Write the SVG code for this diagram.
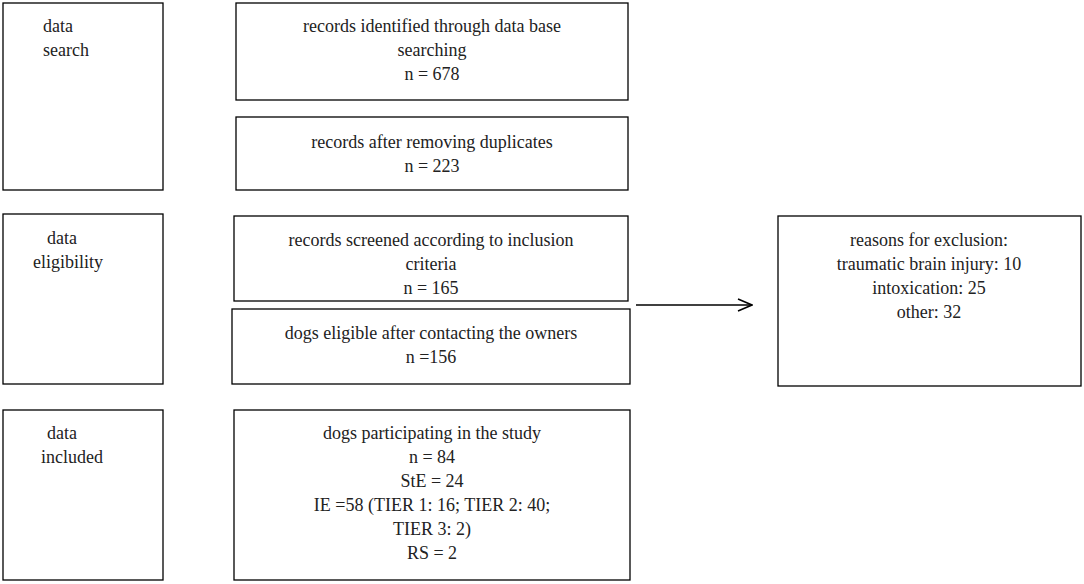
<svg xmlns="http://www.w3.org/2000/svg" width="1084" height="584" viewBox="0 0 1084 584">
<style>
rect{fill:#fff;stroke:#000;stroke-width:1.3}
text{font-family:"Liberation Serif",serif;font-size:18px;fill:#222}
.c{text-anchor:middle}
</style>
<defs><marker id="a" markerWidth="16" markerHeight="14" refX="15" refY="7" orient="auto" markerUnits="userSpaceOnUse"><path d="M1,1 L15,7 L1,13" fill="none" stroke="#000" stroke-width="1.5"/></marker></defs>
<rect width="1084" height="584" style="stroke:none"/>
<g id="search"><rect x="3" y="3" width="160" height="187"/><text class="c" x="58" y="32">data</text><text class="c" x="66" y="56">search</text></g>
<g id="eligibility"><rect x="3" y="214" width="160" height="170"/><text class="c" x="62" y="244">data</text><text class="c" x="68" y="268">eligibility</text></g>
<g id="included"><rect x="3" y="410" width="160" height="170"/><text class="c" x="62" y="439">data</text><text class="c" x="72" y="463">included</text></g>
<g id="identified"><rect x="236" y="3" width="392" height="97"/><text class="c" x="432" y="32">records identified through data base</text><text class="c" x="432" y="56">searching</text><text class="c" x="432" y="80">n = 678</text></g>
<g id="duplicates"><rect x="236" y="117" width="392" height="73"/><text class="c" x="432" y="148">records after removing duplicates</text><text class="c" x="432" y="172">n = 223</text></g>
<g id="screened"><rect x="234" y="216" width="394" height="85"/><text class="c" x="431" y="246">records screened  according to inclusion</text><text class="c" x="431" y="270">criteria</text><text class="c" x="431" y="294">n = 165</text></g>
<g id="eligible"><rect x="232" y="309" width="398" height="75"/><text class="c" x="431" y="339">dogs eligible after contacting the owners</text><text class="c" x="431" y="363">n =156</text></g>
<g id="participating"><rect x="234" y="410" width="396" height="170"/><text class="c" x="432" y="439">dogs participating in the study</text><text class="c" x="432" y="463">n = 84</text><text class="c" x="432" y="487">StE = 24</text><text class="c" x="432" y="511">IE =58 (TIER 1: 16; TIER 2: 40;</text><text class="c" x="432" y="535">TIER 3: 2)</text><text class="c" x="432" y="559">RS = 2</text></g>
<g id="reasons"><rect x="778" y="216" width="303" height="170"/><text class="c" x="929" y="246">reasons for exclusion:</text><text class="c" x="929" y="270">traumatic brain injury: 10</text><text class="c" x="929" y="294">intoxication: 25</text><text class="c" x="929" y="318">other: 32</text></g>
<g id="connectors"><line x1="636" y1="305" x2="752" y2="305" stroke="#000" stroke-width="1.5" marker-end="url(#a)"/></g>
</svg>
